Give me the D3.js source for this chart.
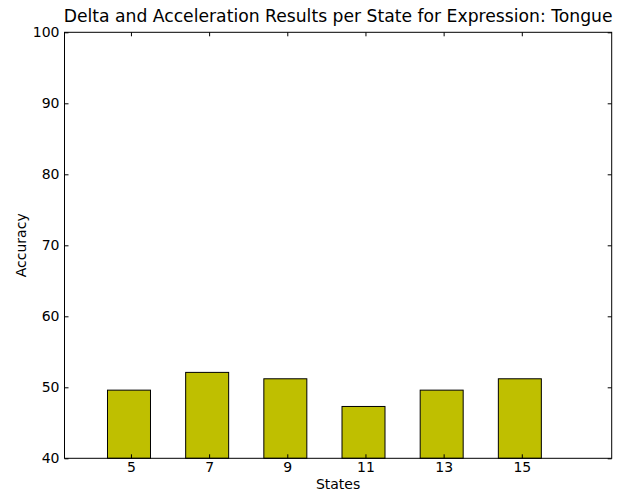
<!DOCTYPE html>
<html><head><meta charset="utf-8">
<script src="https://cdn.jsdelivr.net/npm/d3@7"></script>
<style>body{margin:0;background:#fff}svg{display:block}text{font-family:"DejaVu Sans",sans-serif;fill:#000}</style>
</head><body>
<script>
const states = [5, 7, 9, 11, 13, 15];
const accuracy = [49.6, 52.1, 51.2, 47.3, 49.6, 51.2];
const yTicks = [40, 50, 60, 70, 80, 90, 100];
const title = "Delta and Acceleration Results per State for Expression: Tongue";

const W = 617, H = 495;
const m = {l: 64.5, r: 617 - 611.7, t: 32.3, b: 495 - 458.3};
const svg = d3.select("body").append("svg").attr("width", W).attr("height", H);
const x = d3.scaleLinear().domain([3.3, 17.3]).range([m.l, W - m.r]);
const y = d3.scaleLinear().domain([40, 100]).range([H - m.b, m.t]);

svg.append("g").selectAll("rect").data(states).join("rect")
  .attr("x", (d) => x(d - 0.6))
  .attr("width", (d) => x(d + 0.5) - x(d - 0.6))
  .attr("y", (d, i) => y(accuracy[i]))
  .attr("height", (d, i) => y(40) - y(accuracy[i]))
  .attr("fill", "#bfbf00").attr("stroke", "#000").attr("stroke-width", 1);

const tl = 4;
const axB = d3.axisBottom(x).tickValues(states).tickSize(-tl).tickPadding(4).tickFormat(d3.format("d"));
const axT = d3.axisTop(x).tickValues(states).tickSize(-tl).tickFormat("");
const axL = d3.axisLeft(y).tickValues(yTicks).tickSize(-tl).tickPadding(5);
const axR = d3.axisRight(y).tickValues(yTicks).tickSize(-tl).tickFormat("");
function style(g){ g.attr("font-size", null).attr("font-family", null); g.select(".domain").remove(); g.selectAll("line").attr("stroke","#000"); g.selectAll("text").style("font-size","14px").style("font-family","DejaVu Sans"); }
svg.append("g").attr("transform", `translate(0,${y(40)})`).call(axB).call(style);
svg.append("g").attr("transform", `translate(0,${y(100)})`).call(axT).call(style);
svg.append("g").attr("transform", `translate(${x(3.3)},0)`).call(axL).call(style);
svg.append("g").attr("transform", `translate(${x(17.3)},0)`).call(axR).call(style);

svg.append("rect").attr("x", x(3.3)).attr("y", y(100)).attr("width", x(17.3) - x(3.3)).attr("height", y(40) - y(100))
  .attr("fill", "none").attr("stroke", "#000").attr("stroke-width", 1);

svg.append("text").attr("x", (x(3.3) + x(17.3)) / 2).attr("y", 22).attr("text-anchor", "middle").style("font-size", "17.2px").text(title);
svg.append("text").attr("x", (x(3.3) + x(17.3)) / 2).attr("y", 489).attr("text-anchor", "middle").style("font-size", "14px").text("States");
svg.append("text").attr("transform", `translate(26,${(y(40) + y(100)) / 2}) rotate(-90)`).attr("text-anchor", "middle").style("font-size", "14px").text("Accuracy");
</script>
</body></html>
